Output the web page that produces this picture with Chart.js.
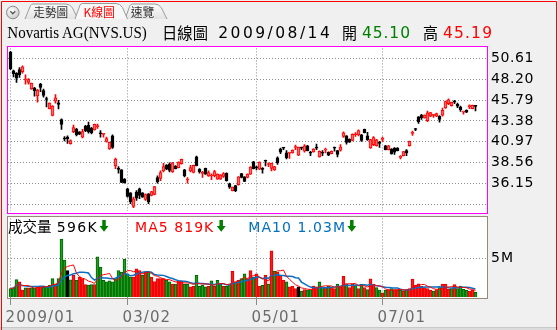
<!DOCTYPE html>
<html><head><meta charset="utf-8">
<script src="https://cdn.jsdelivr.net/npm/chart.js@4.4.1/dist/chart.umd.min.js"></script>
<style>
html,body{margin:0;padding:0;}
body{width:558px;height:330px;position:relative;overflow:hidden;background:#f0f0f0;font-family:'DejaVu Sans',sans-serif;}
.abs{position:absolute;}
#pricePanel{left:7px;top:46px;width:479px;height:166px;border:1px solid #ff00ff;background:#fff;}
#volPanel{left:7px;top:216px;width:479px;height:81px;border:1px solid #998877;background:#fff;}
#price{left:0;top:35px;}
#vol{left:0;top:205px;}
#bottomBar{left:0;top:327px;width:558px;height:3px;background:#dcdcdc;border-top:1px solid #c8c8c8;}
svg{left:0;top:0;}
</style>
</head>
<body>
<div id="pricePanel" class="abs"></div>
<div id="volPanel" class="abs"></div>
<div id="bottomBar" class="abs"></div>
<canvas id="price" class="abs" width="558" height="189"></canvas>
<canvas id="vol" class="abs" width="558" height="125"></canvas>
<svg class="abs" width="558" height="330" xmlns="http://www.w3.org/2000/svg">
  <defs>
    <linearGradient id="tabg" x1="0" y1="0" x2="0" y2="1">
      <stop offset="0" stop-color="#fbfbfb"/><stop offset="1" stop-color="#e4e4e4"/>
    </linearGradient>
    <radialGradient id="btn" cx="0.4" cy="0.35" r="0.7">
      <stop offset="0" stop-color="#ffffff"/><stop offset="1" stop-color="#c8c8c8"/>
    </radialGradient>
  </defs>
  <path d="M1.5,330 V1.5 H556.5 V330" fill="none" stroke="#ff0000" stroke-width="1"/>
  <!-- tabs -->
  <circle cx="12.8" cy="12.5" r="6.3" fill="url(#btn)" stroke="#8a8a8a" stroke-width="1"/>
  <path d="M10.3,11.3 L12.8,13.8 L15.3,11.3" fill="none" stroke="#555" stroke-width="1.3"/>
  <path d="M25,19 L30.5,5.5 Q31.2,4 33,4 L66,4 Q70,4 72.5,8 L78,19" fill="url(#tabg)" stroke="#9a9a9a"/>
  <path d="M125,19 L130,5.5 Q130.7,4 132.5,4 L155,4 Q159,4 161.5,8 L167,19" fill="url(#tabg)" stroke="#9a9a9a"/>
  <path d="M75,19 L80,5 Q80.7,3.5 82.5,3.5 L116,3.5 Q120,3.5 122.5,7.5 L127.5,19" fill="#f7f7f7" stroke="#9a9a9a"/>
  <text x="33.3" y="16.5" font-family="Noto Sans CJK TC" font-size="12" fill="#333" textLength="35" lengthAdjust="spacingAndGlyphs">走勢圖</text>
  <text x="83.5" y="16.5" font-family="Noto Sans CJK TC" font-size="12" fill="#ff0000" textLength="31.5" lengthAdjust="spacingAndGlyphs">K線圖</text>
  <text x="130.7" y="16.5" font-family="Noto Sans CJK TC" font-size="12" fill="#333" textLength="23.5" lengthAdjust="spacingAndGlyphs">速覽</text>
  <!-- title -->
  <text x="7.3" y="38.3" font-family="Liberation Serif" font-size="16" fill="#000" textLength="139.5" lengthAdjust="spacingAndGlyphs">Novartis AG(NVS.US)</text>
  <text x="162" y="39" font-family="Noto Sans CJK TC" font-size="16" fill="#000" textLength="46" lengthAdjust="spacingAndGlyphs">日線圖</text>
  <text x="218.3" y="38.3" font-family="DejaVu Sans" font-size="15.5" fill="#000" textLength="111.5" lengthAdjust="spacing">2009/08/14</text>
  <text x="342" y="39" font-family="Noto Sans CJK TC" font-size="16" fill="#000" textLength="15" lengthAdjust="spacingAndGlyphs">開</text>
  <text x="362" y="38.3" font-family="DejaVu Sans" font-size="15.5" fill="#008000" textLength="48" lengthAdjust="spacing">45.10</text>
  <text x="423" y="39" font-family="Noto Sans CJK TC" font-size="16" fill="#000" textLength="15" lengthAdjust="spacingAndGlyphs">高</text>
  <text x="443" y="38.3" font-family="DejaVu Sans" font-size="15.5" fill="#ff0000" textLength="49" lengthAdjust="spacing">45.19</text>
  <!-- volume legend -->
  <text x="8" y="232" font-family="Noto Sans CJK TC" font-size="15" fill="#000" textLength="43.7" lengthAdjust="spacingAndGlyphs">成交量</text>
  <text x="56.7" y="231.7" font-family="DejaVu Sans" font-size="14" fill="#000" textLength="40" lengthAdjust="spacing">596K</text>
  <path d="M102.25,220 h3.5 v6 h2.75 l-4.5,5.7 l-4.5,-5.7 h2.75 z" fill="#008000"/>
  <text x="135" y="231.7" font-family="DejaVu Sans" font-size="14" fill="#ff0000" textLength="78.3" lengthAdjust="spacing">MA5 819K</text>
  <path d="M219.45,220 h3.5 v6 h2.75 l-4.5,5.7 l-4.5,-5.7 h2.75 z" fill="#008000"/>
  <text x="248.3" y="231.7" font-family="DejaVu Sans" font-size="14" fill="#0070c0" textLength="96.7" lengthAdjust="spacing">MA10 1.03M</text>
  <path d="M350.05,220 h3.5 v6 h2.75 l-4.5,5.7 l-4.5,-5.7 h2.75 z" fill="#008000"/>
</svg>
<script>
// ---- data (trading days 2009/01/02 .. 2009/08/14) ----
const open = [51.33,49.17,48.90,49.32,49.09,48.12,47.84,47.08,47.19,46.28,
47.61,46.89,45.97,44.80,44.00,45.67,45.48,43.54,41.32,41.49,
40.73,42.14,42.40,42.10,41.49,42.78,42.86,42.52,42.33,42.72,
41.93,41.81,41.00,40.12,41.64,38.15,37.79,37.69,36.63,35.49,
35.03,33.47,35.11,35.49,35.03,34.27,34.92,34.73,34.84,36.82,
36.70,37.58,38.26,38.37,37.46,38.15,37.96,38.41,37.69,36.53,
37.58,37.39,39.21,37.77,37.29,37.88,37.01,36.99,37.01,36.63,
36.63,36.93,37.31,36.09,35.30,35.87,35.98,37.27,36.89,36.82,
37.20,38.64,37.98,37.77,37.79,38.74,38.32,37.88,37.69,39.10,
40.12,40.26,39.67,39.65,39.67,40.29,39.40,40.26,39.86,40.50,
39.69,39.78,40.26,39.21,39.69,39.99,39.74,39.59,40.26,39.93,
39.97,41.57,41.64,41.26,41.11,41.77,41.76,41.76,42.40,41.64,
40.24,40.62,40.50,40.82,41.24,40.50,40.05,40.12,40.24,40.24,
39.15,39.36,39.93,40.50,41.93,42.42,43.85,44.04,43.73,43.39,
43.92,44.02,43.92,43.92,44.04,44.87,45.37,45.14,45.58,45.29,
44.99,44.40,44.61,45.04,44.80,45.10];
const high = [51.45,49.28,48.98,49.55,49.77,48.71,48.29,47.76,47.27,47.04,
47.72,47.08,46.13,45.48,45.14,46.43,45.75,43.62,41.57,41.64,
41.19,42.90,42.52,42.14,42.40,42.86,43.24,42.63,43.01,43.01,
42.25,41.95,41.49,40.92,41.76,39.06,38.07,37.73,36.70,35.56,
35.07,34.54,35.30,35.60,35.07,34.92,34.96,35.22,35.79,37.01,
37.58,38.45,38.30,38.53,38.56,38.19,38.64,38.94,37.77,36.82,
38.22,38.26,39.29,37.84,37.54,37.92,37.58,37.23,37.65,37.23,
37.16,37.39,37.35,36.17,35.71,35.90,36.93,37.31,36.93,37.23,
38.07,38.68,38.15,38.64,37.96,38.83,38.53,38.49,38.11,39.21,
40.24,40.31,39.93,39.74,40.01,40.58,40.35,40.35,40.62,40.54,
39.86,40.16,40.69,39.90,39.93,40.24,39.78,39.90,40.35,39.97,
40.62,42.10,41.68,41.30,41.87,42.02,42.33,41.83,42.44,42.06,
41.23,41.57,41.23,41.00,41.49,40.54,40.54,40.16,40.27,40.27,
39.36,39.86,40.05,41.04,42.21,42.52,43.88,44.15,44.08,44.53,
44.38,44.15,44.27,44.00,44.87,45.67,45.94,45.56,45.75,45.44,
45.10,44.53,44.65,45.25,45.22,45.19];
const low = [49.32,48.48,47.84,48.41,48.90,47.65,47.65,47.04,46.24,45.56,
46.77,46.13,44.99,44.76,43.96,45.44,44.76,42.40,41.07,40.77,
40.69,42.02,41.64,41.79,41.41,42.14,41.95,41.87,42.29,42.52,
41.49,41.49,40.92,40.08,40.20,37.84,37.31,36.21,36.17,34.54,
33.78,33.32,34.16,34.35,34.50,34.16,33.78,34.69,34.80,36.17,
36.44,37.46,37.73,37.46,37.39,37.80,37.92,38.37,36.89,36.17,
37.46,37.35,38.15,37.31,36.82,37.16,36.93,36.55,36.89,36.59,
36.59,36.82,36.40,35.56,35.26,35.18,35.94,36.78,36.32,36.78,
37.16,37.80,37.69,37.73,37.31,38.15,38.07,37.58,37.65,38.34,
39.59,40.05,38.98,39.02,39.63,40.05,39.36,40.05,39.74,39.89,
39.36,39.74,40.05,39.17,39.36,39.67,39.36,39.55,39.86,39.21,
39.86,41.45,40.69,40.88,41.07,41.57,41.64,41.00,41.98,41.11,
40.20,40.50,40.46,40.31,41.00,40.01,40.01,39.51,39.48,39.89,
38.98,39.32,39.36,40.46,41.68,42.25,43.09,43.54,43.69,43.28,
43.88,43.77,43.88,43.24,43.92,44.83,45.25,45.10,45.37,44.91,
44.49,44.15,44.34,44.80,44.76,44.53];
const close = [49.43,48.86,48.33,48.75,49.66,48.14,48.16,47.72,46.89,46.96,
47.27,46.32,45.86,45.44,45.10,46.05,45.29,42.97,41.28,41.28,
41.11,42.59,41.76,41.83,42.14,42.25,42.14,41.98,42.97,42.76,
41.89,41.85,41.34,40.88,40.31,38.94,37.75,36.25,36.21,34.61,
33.97,34.35,34.42,34.73,34.54,34.84,33.97,35.18,35.75,36.32,
37.39,38.07,37.77,37.65,38.53,37.84,38.60,38.91,37.01,36.57,
37.96,38.22,38.20,37.46,37.33,37.20,37.39,37.03,37.50,37.20,
37.12,37.27,36.44,35.68,35.70,35.30,36.89,36.82,36.36,37.20,
38.03,37.84,37.94,38.60,37.75,38.70,38.36,38.45,38.07,38.53,
39.74,40.22,39.10,39.69,39.97,40.33,40.33,40.22,40.50,39.93,
39.65,40.12,40.22,39.86,39.65,40.03,39.40,39.86,40.22,39.48,
40.35,41.98,40.88,40.92,41.83,41.81,42.25,41.11,42.02,41.19,
41.21,41.45,41.19,40.78,41.28,40.05,40.50,39.55,39.74,39.93,
39.19,39.82,39.67,41.00,41.97,42.38,43.28,43.73,44.04,44.30,
44.34,44.06,44.23,43.54,44.61,45.63,45.82,45.52,45.54,45.10,
44.68,44.44,44.38,45.08,45.18,45.06];
// volume in millions of shares
const volume = [1.10,1.18,2.24,1.94,0.90,1.18,1.18,1.18,1.18,1.39,
1.39,1.31,1.39,1.52,2.36,1.65,2.36,7.47,4.77,3.42,
2.20,2.80,2.15,2.57,2.36,1.60,1.55,1.60,1.60,5.19,
3.84,2.15,1.94,2.07,1.94,2.36,3.42,3.20,4.90,3.00,
2.57,2.57,3.63,3.42,2.78,3.20,3.20,2.57,2.00,2.36,
2.36,2.36,2.15,1.94,1.65,1.65,2.07,2.07,1.65,1.65,
1.31,1.39,2.78,1.39,1.52,1.31,1.39,2.07,1.39,2.15,
1.65,1.39,1.39,1.65,3.30,1.94,2.15,2.36,3.00,2.36,
3.42,2.57,3.00,1.39,1.52,2.78,1.65,5.95,3.30,3.20,
2.80,2.15,1.95,1.30,1.40,1.10,1.30,0.75,0.97,0.90,
0.97,1.40,1.31,1.95,1.31,1.22,1.40,1.22,1.10,1.65,
1.31,2.65,1.70,1.22,1.70,1.52,1.10,1.65,1.22,0.97,
2.35,1.65,1.22,0.89,0.55,0.89,0.97,1.10,0.97,0.89,
0.89,0.76,0.97,1.10,2.30,1.52,1.70,1.39,1.22,1.10,
0.89,0.76,0.97,1.22,1.65,1.65,1.00,1.10,1.60,1.10,
1.40,1.00,0.85,0.75,0.90,0.596];
const monthTickIdx = [0, 39, 82, 124];
const monthTickLabels = ['2009/01', '03/02', '05/01', '07/01'];
const priceTicks = [33.74, 36.15, 38.56, 40.97, 43.38, 45.79, 48.20, 50.61];
const volTicks = [5];

// ---- helpers ----
const idx = close.map((_, i) => i);
function movingAvg(arr, n) {
  return arr.map((_, i) => {
    const s = Math.max(0, i - n + 1);
    let sum = 0;
    for (let k = s; k <= i; k++) sum += arr[k];
    return sum / (i - s + 1);
  });
}
const ma5 = movingAvg(volume, 5);
const ma10 = movingAvg(volume, 10);

const up = idx.map(i => close[i] >= open[i]);
const wickColor = idx.map(i => up[i] ? '#ff0000' : '#000000');
const bodyFill = idx.map(i => up[i] ? '#ff6a6a' : '#000000');
const bodyBorder = idx.map(i => up[i] ? '#ff0000' : '#000000');
const volDir = idx.map(i => i === 0 ? -1 : Math.sign(close[i] - close[i - 1]));
const volFill = volDir.map(d => d > 0 ? '#ff1a1a' : d < 0 ? '#1f9f1f' : '#000000');
const volBorder = volDir.map(d => d > 0 ? '#e00000' : d < 0 ? '#006400' : '#000000');

Chart.defaults.font.family = 'DejaVu Sans';
const X_MIN = -0.8333, X_MAX = 158.5;
const GRID = '#8c8c8c';

function spacingPlugin(sp) {
  return { id: 'sp' + String(sp).replace('.', '_'), beforeDraw(chart) { chart.ctx.letterSpacing = sp + 'px'; } };
}

new Chart(document.getElementById('price'), {
  type: 'bar',
  data: {
    datasets: [
      { data: idx.map(i => ({ x: i, y: [low[i], high[i]] })), backgroundColor: wickColor,
        borderWidth: 0, barThickness: 1, minBarLength: 1, grouped: false, order: 2 },
      { data: idx.map(i => ({ x: i, y: [open[i], close[i]] })), backgroundColor: bodyFill,
        borderColor: bodyBorder, borderWidth: 1, borderSkipped: false, barThickness: 3,
        minBarLength: 1, grouped: false, order: 1 }
    ]
  },
  options: {
    responsive: false, animation: false, devicePixelRatio: 1, events: [],
    layout: { padding: { left: 8, right: 0, top: 12, bottom: 12 } },
    plugins: { legend: { display: false }, tooltip: { enabled: false } },
    scales: {
      x: { type: 'linear', min: X_MIN, max: X_MAX, offset: false,
        afterBuildTicks: s => { s.ticks = monthTickIdx.map(v => ({ value: v })); },
        ticks: { display: false }, grid: { color: GRID, drawTicks: false, offset: false },
        border: { display: false, dash: [1, 2] }, afterFit: s => { s.height = 0; } },
      y: { position: 'right', min: 32.977, max: 51.784,
        afterBuildTicks: s => { s.ticks = priceTicks.map(v => ({ value: v })); },
        ticks: { callback: v => (v === priceTicks[0] ? '' : v.toFixed(2)), padding: 5, color: '#000',
          font: { family: 'DejaVu Sans', size: 14 } },
        grid: { color: GRID, drawTicks: false }, border: { display: false, dash: [1, 2] },
        afterFit: s => { s.width = 72; } }
    }
  },
  plugins: [spacingPlugin(0.6)]
});

new Chart(document.getElementById('vol'), {
  type: 'bar',
  data: {
    datasets: [
      { type: 'line', data: idx.map(i => ({ x: i, y: ma5[i] })), borderColor: '#ff0000', borderWidth: 1,
        pointRadius: 0, tension: 0, order: 0 },
      { type: 'line', data: idx.map(i => ({ x: i, y: ma10[i] })), borderColor: '#0a6fc2', borderWidth: 1.5,
        pointRadius: 0, tension: 0, order: 0 },
      { type: 'bar', data: idx.map(i => ({ x: i, y: volume[i] })), backgroundColor: volFill,
        borderColor: volBorder, borderWidth: 1, barThickness: 3, grouped: false, order: 1 }
    ]
  },
  options: {
    responsive: false, animation: false, devicePixelRatio: 1, events: [],
    layout: { padding: { left: 8, right: 0, top: 12, bottom: 0 } },
    plugins: { legend: { display: false }, tooltip: { enabled: false } },
    scales: {
      x: { type: 'linear', min: X_MIN, max: X_MAX, offset: false,
        afterBuildTicks: s => { s.ticks = monthTickIdx.map(v => ({ value: v })); },
        ticks: { callback: v => monthTickLabels[monthTickIdx.indexOf(v)], align: 'start', labelOffset: -5,
          padding: 4, color: '#6b6b6b', maxRotation: 0, autoSkip: false,
          font: { family: 'DejaVu Sans', size: 15 } },
        grid: { color: GRID, tickColor: '#8a8a8a', tickLength: 8, tickBorderDash: [], offset: false },
        border: { display: false, dash: [1, 2] }, afterFit: s => { s.height = 33; } },
      y: { position: 'right', min: 0, max: 10.13,
        afterBuildTicks: s => { s.ticks = volTicks.map(v => ({ value: v })); },
        ticks: { callback: v => v + 'M', padding: 5, color: '#000', font: { family: 'DejaVu Sans', size: 14 } },
        grid: { color: GRID, drawTicks: false }, border: { display: false, dash: [1, 2] },
        afterFit: s => { s.width = 72; } }
    }
  },
  plugins: [spacingPlugin(1.1)]
});
</script>
</body></html>
